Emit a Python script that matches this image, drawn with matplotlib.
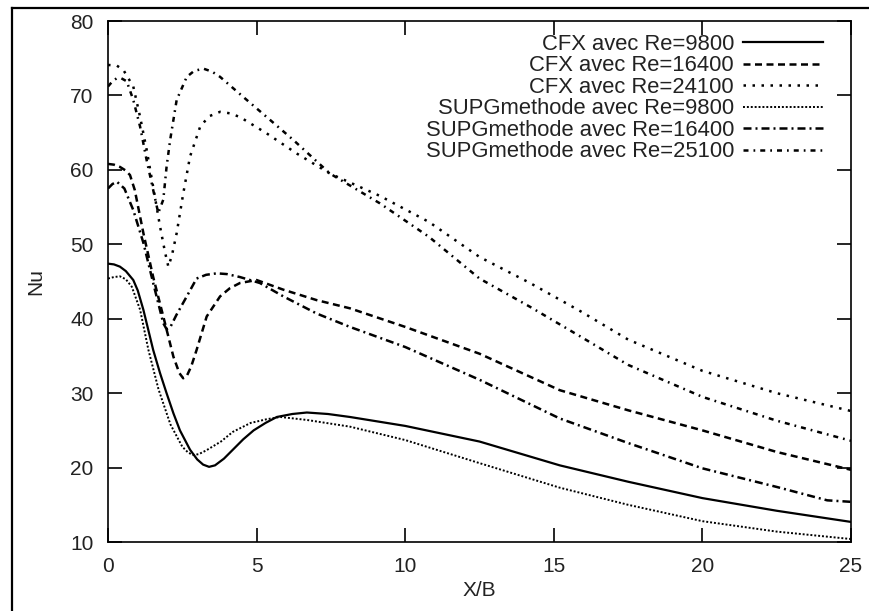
import matplotlib.pyplot as plt
from matplotlib.lines import Line2D

plt.rcParams['font.family'] = ['Liberation Sans', 'DejaVu Sans']

# CFX, Re=9800
x_cfx_9800 = [0, 0.2, 0.4, 0.6, 0.85, 1.0, 1.19, 1.52, 1.75, 1.97, 2.2, 2.42, 2.76, 3.0, 3.2,
              3.4, 3.6, 3.9, 4.2, 4.55, 4.9, 5.3, 5.68, 6.2, 6.69, 7.4, 8.14, 10, 12.5, 15.2,
              17.5, 20, 22.5, 25]
y_cfx_9800 = [47.4, 47.3, 47.0, 46.4, 45.2, 43.8, 41.2, 35.8, 32.7, 30.0, 27.3, 25.0, 22.4, 21.1, 20.4,
              20.1, 20.3, 21.2, 22.4, 23.8, 25.0, 26.0, 26.8, 27.2, 27.4, 27.2, 26.8, 25.6, 23.5, 20.3,
              18.1, 15.9, 14.2, 12.7]

# CFX, Re=16400
x_cfx_16400 = [0, 0.2, 0.4, 0.6, 0.74, 0.9, 1.19, 1.52, 1.86, 2.2, 2.4, 2.53, 2.65, 2.8, 2.98,
               3.32, 3.77, 4.1, 4.44, 5.0, 5.9, 7.02, 8.14, 10, 12.5, 15.2, 17.5, 20, 22.5, 25]
y_cfx_16400 = [60.8, 60.7, 60.4, 59.9, 59.3, 57.3, 51.5, 45.6, 40.3, 34.9, 32.7, 32.0, 32.3, 33.6, 35.8,
               40.3, 43.0, 44.1, 44.8, 45.2, 43.9, 42.5, 41.4, 38.9, 35.3, 30.4, 27.7, 25.0, 22.1, 19.7]

# CFX, Re=24100
x_cfx_24100 = [0, 0.3, 0.52, 0.85, 1.08, 1.3, 1.52, 1.75, 1.92, 2.03, 2.15, 2.31, 2.53, 2.76,
               3.1, 3.4, 3.77, 4.1, 4.44, 5.34, 6.35, 7.47, 9.15, 10.8, 12.5, 14.2, 15.9, 17.5,
               20, 22.5, 25]
y_cfx_24100 = [74.1, 74.0, 73.4, 71.2, 67.1, 62.7, 57.7, 52.4, 48.9, 47.0, 48.5, 51.5, 56.8, 61.8,
               65.8, 67.2, 67.8, 67.6, 67.1, 64.9, 62.2, 59.5, 56.5, 53.0, 48.3, 44.8, 41.0, 37.2,
               33.0, 30.0, 27.6]

# SUPG methode, Re=9800
x_supg_9800 = [0, 0.2, 0.4, 0.6, 0.8, 1.08, 1.36, 1.7, 2.1, 2.5, 2.7, 2.87, 3.05, 3.3, 3.8, 4.2,
               4.8, 5.34, 5.8, 6.69, 8.14, 10, 12.5, 15.2, 17.5, 20, 22.5, 25]
y_supg_9800 = [45.4, 45.6, 45.7, 45.3, 44.3, 41.2, 35.8, 30.5, 25.8, 22.8, 22.0, 21.7, 21.8, 22.3, 23.5, 24.8,
               26.0, 26.5, 26.8, 26.4, 25.5, 23.7, 20.6, 17.3, 15.0, 12.8, 11.4, 10.4]

# SUPG methode, Re=16400
x_supg_16400 = [0, 0.15, 0.3, 0.55, 0.85, 1.19, 1.52, 1.86, 1.97, 2.1, 2.3, 2.65, 2.98, 3.3,
                3.66, 4.0, 4.44, 5.11, 5.9, 7.02, 8.14, 10, 12.5, 15.2, 17.5, 20, 22.5, 24.2, 25]
y_supg_16400 = [57.5, 58.1, 58.4, 57.5, 54.6, 50.2, 44.8, 39.4, 38.6, 38.9, 40.5, 43.0, 45.4, 45.9,
                46.1, 46.0, 45.6, 44.8, 43.0, 40.7, 38.9, 36.2, 31.8, 26.6, 23.3, 19.9, 17.4, 15.6, 15.4]

# SUPG methode, Re=25100
x_supg_25100 = [0, 0.15, 0.29, 0.45, 0.63, 0.85, 1.08, 1.3, 1.52, 1.69, 1.86, 1.97, 2.09, 2.31,
                2.65, 2.9, 3.21, 3.5, 3.77, 4.55, 5.34, 6.24, 7.47, 9.15, 10.8, 12.5, 14.2, 15.9,
                17.5, 20, 22.5, 25]
y_supg_25100 = [71.2, 71.9, 72.3, 72.3, 71.9, 69.4, 65.8, 61.3, 57.3, 54.2, 56.0, 60.4, 64.0, 69.4,
                72.5, 73.3, 73.6, 73.2, 72.5, 69.8, 67.1, 64.0, 59.5, 55.5, 51.0, 45.4, 41.6, 37.6,
                33.8, 29.5, 26.3, 23.6]

labels = ['CFX avec Re=9800', 'CFX avec Re=16400', 'CFX avec Re=24100',
          'SUPGmethode avec Re=9800', 'SUPGmethode avec Re=16400', 'SUPGmethode avec Re=25100']

fig = plt.figure(figsize=(8.69, 6.11), dpi=100)
ax = fig.add_axes([0.1243, 0.1129, 0.855, 0.8527])

ax.plot(x_cfx_9800, y_cfx_9800, color='black', lw=1.6, ls='-', label=labels[0])
ax.plot(x_cfx_16400, y_cfx_16400, color='black', lw=1.8, ls=(0, (2.8, 1.8)), label=labels[1])
ax.plot(x_cfx_24100, y_cfx_24100, color='black', lw=1.8, ls=(0, (1, 2.6)), label=labels[2])
ax.plot(x_supg_9800, y_supg_9800, color='black', lw=1.4, ls=(0, (1, 1)), label=labels[3])
ax.plot(x_supg_16400, y_supg_16400, color='black', lw=1.8, ls=(0, (3.2, 1.6, 0.8, 1.6)), label=labels[4])
ax.plot(x_supg_25100, y_supg_25100, color='black', lw=1.8, ls=(0, (2, 2, 0.7, 2)), label=labels[5])

ax.set_xlim(0, 25)
ax.set_ylim(10, 80)
ax.set_xticks([0, 5, 10, 15, 20, 25])
ax.set_yticks([10, 20, 30, 40, 50, 60, 70, 80])
ax.tick_params(direction='in', length=10, width=1.2, top=True, right=True,
               labelsize=15, pad=10.5, labelcolor='#222222')
for sp in ax.spines.values():
    sp.set_linewidth(1.2)

ax.set_xlabel('X/B', fontsize=15, color='#222222', labelpad=4)
ax.set_ylabel('Nu', fontsize=15, color='#222222', labelpad=18)

leg = ax.legend(loc='upper right', bbox_to_anchor=(0.962, 0.975), frameon=False,
                markerfirst=False, fontsize=15.8, handlelength=3.65, handletextpad=0.4,
                labelspacing=0.02, borderpad=0, borderaxespad=0)
# right-align the legend texts
leg._legend_box._children[1]._children[0].align = 'right'
for t in leg.get_texts():
    t.set_color('#222222')

# partial frame around the figure
fig.add_artist(Line2D([0.0138, 0.0138], [0, 0.987], color='black', lw=1.6, transform=fig.transFigure))
fig.add_artist(Line2D([0.0138, 1], [0.987, 0.987], color='black', lw=1.6, transform=fig.transFigure))

fig.savefig('out.png', dpi=100)
